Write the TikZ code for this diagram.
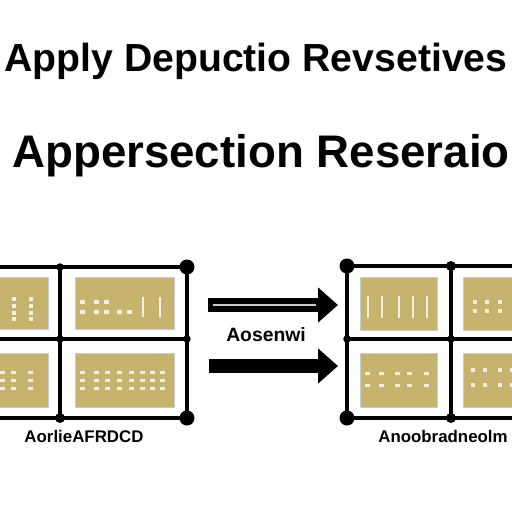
\documentclass[tikz,border=0pt]{standalone}
\usepackage{fontspec}
\setmainfont{Liberation Sans}
\usepackage{tikz}
\usetikzlibrary{arrows.meta, positioning}
\definecolor{panelgold}{RGB}{198,180,110}

\begin{document}
\begin{tikzpicture}[
        x=0.02cm, y=-0.02cm,
        title/.style={font=\fontsize{22.3}{26}\selectfont\bfseries, anchor=base, inner sep=0},
        subtitle/.style={font=\fontsize{26}{30}\selectfont\bfseries, anchor=base, inner sep=0},
        caption/.style={font=\fontsize{9.6}{12}\selectfont\bfseries, anchor=base, inner sep=0},
        panel/.style={rectangle, fill=panelgold, draw=black!20, line width=0.5pt, inner sep=0},
        bigdot/.style={circle, fill=black, minimum size=0.3cm, inner sep=0},
        smalldot/.style={circle, fill=black, minimum size=0.2cm, inner sep=0},
        tinydot/.style={circle, fill=black, minimum size=0.15cm, inner sep=0},
        gridline/.style={line width=0.09cm},
        bigarrow/.style={line width=0.28cm, -{Triangle[length=0.4cm, width=0.68cm]}},
        glyph/.style={fill=white, opacity=0.8}
    ]
    \useasboundingbox[fill=white] (0,0) rectangle (512,512);

    % ==========================================
    % Titles
    % ==========================================
    \node[title] (T1) at (256,71) {Apply Depuctio Revsetives};
    \node[subtitle] (T2) at (261,167) {Appersection Reseraio};

    % ==========================================
    % Left grid
    % ==========================================
    \node[panel, minimum width=1.16cm, minimum height=1.04cm] (LA) at (19,303) {};
    \node[panel, minimum width=1.98cm, minimum height=1.04cm] (LB) at (124.5,303) {};
    \node[panel, minimum width=1.16cm, minimum height=1.08cm] (LC) at (19,380) {};
    \node[panel, minimum width=1.98cm, minimum height=1.08cm] (LD) at (124.5,380) {};

    \coordinate (LTL) at (-10,267);
    \coordinate (LML) at (-10,339);
    \coordinate (LBL) at (-10,418);
    \node[tinydot] (LTM) at (60,267) {};
    \node[tinydot] (LMM) at (60,339) {};
    \node[smalldot] (LBM) at (60,418) {};
    \node[bigdot] (LTR) at (187,267) {};
    \node[tinydot] (LMR) at (187,339) {};
    \node[bigdot] (LBR) at (187,418) {};

    \draw[gridline] (LTL) -- (LTR.center);
    \draw[gridline] (LML) -- (LMR.center);
    \draw[gridline] (LBL) -- (LBR.center);
    \draw[gridline] (LTM.center) -- (LBM.center);
    \draw[gridline] (LTR.center) -- (LBR.center);

    % ==========================================
    % Right grid
    % ==========================================
    \node[panel, minimum width=1.54cm, minimum height=1.06cm] (RA) at (398.5,303.5) {};
    \node[panel, minimum width=1.34cm, minimum height=1.06cm] (RB) at (496.5,303.5) {};
    \node[panel, minimum width=1.54cm, minimum height=1.08cm] (RC) at (398.5,380) {};
    \node[panel, minimum width=1.34cm, minimum height=1.08cm] (RD) at (496.5,380) {};

    \node[bigdot] (RTL) at (347,266) {};
    \node[tinydot] (RML) at (347,339) {};
    \node[bigdot] (RBL) at (347,418) {};
    \node[smalldot] (RTM) at (451,266) {};
    \node[tinydot] (RMM) at (451,339) {};
    \node[smalldot] (RBM) at (451,418) {};
    \coordinate (RTR) at (525,266);
    \coordinate (RMR) at (525,339);
    \coordinate (RBR) at (525,418);

    \draw[gridline] (RTL.center) -- (RTR);
    \draw[gridline] (RML.center) -- (RMR);
    \draw[gridline] (RBL.center) -- (RBR);
    \draw[gridline] (RTL.center) -- (RBL.center);
    \draw[gridline] (RTM.center) -- (RBM.center);

    % ==========================================
    % Panel glyphs
    % ==========================================
    \foreach \x in {14,31} \foreach \y in {299,306,313,319}
        \fill[glyph] (\x-2,\y-2) rectangle ++(4,4);
    \foreach \x in {83,97,107} \fill[glyph] (\x-2.5,300) rectangle ++(5,4);
    \foreach \x in {83,97,107,120,130} \fill[glyph] (\x-2.5,310) rectangle ++(5,4);
    \foreach \x in {143,160} \fill[glyph] (\x-1,297) rectangle ++(2,20);
    \foreach \x in {2,14,31} \foreach \y in {372,380,388}
        \fill[glyph] (\x-2.5,\y-1.5) rectangle ++(5,3);
    \foreach \x in {83,97,108,120,132,143,153,163} \foreach \y in {372,380,388}
        \fill[glyph] (\x-2.5,\y-1.5) rectangle ++(5,3);

    \foreach \x in {368,382,399,413,427} \fill[glyph] (\x-1.2,296) rectangle ++(2.4,22);
    \foreach \x in {368,382,398,410,427} \foreach \y in {373,385}
        \fill[glyph] (\x-2.5,\y-1.5) rectangle ++(5,3);
    \foreach \x in {475,487,500} \foreach \y in {302,311}
        \fill[glyph] (\x-2,\y-2) rectangle ++(4,4);
    \foreach \x in {473,485,500,512} \foreach \y in {370,385}
        \fill[glyph] (\x-2,\y-2) rectangle ++(4,4);

    % ==========================================
    % Arrows
    % ==========================================
    \coordinate (A1s) at (208,305);
    \coordinate (A1e) at (338,305);
    \coordinate (A1i) at (213,305);
    \coordinate (A1j) at (316,305);
    \coordinate (A2s) at (209,366);
    \coordinate (A2e) at (338,366);

    \draw[bigarrow] (A1s) -- (A1e);
    \draw[white!80!black, line width=0.025cm] (A1i) -- (A1j);
    \draw[bigarrow] (A2s) -- (A2e);

    \node[caption, font=\fontsize{11}{13}\selectfont\bfseries] (MID) at (266,341) {Aosenwi};

    % ==========================================
    % Captions
    % ==========================================
    \node[caption] (CL) at (84,442) {AorlieAFRDCD};
    \node[caption, anchor=base west] (CR) at (378,442) {Anoobradneolm};

\end{tikzpicture}
\end{document}
